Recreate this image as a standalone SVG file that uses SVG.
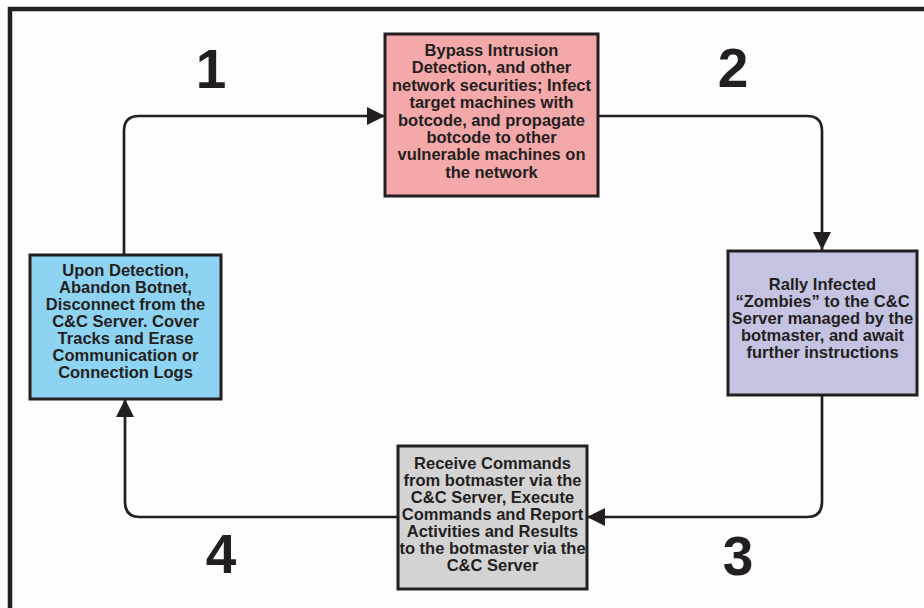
<svg xmlns="http://www.w3.org/2000/svg" width="924" height="608" viewBox="0 0 924 608">
  <style>
    .box { stroke: #231f20; stroke-width: 3; }
    .t { font-family: "Liberation Sans", Arial, sans-serif; font-weight: bold; font-size: 16.5px; fill: #231f20; text-anchor: middle; }
    .num { font-family: "Liberation Sans", Arial, sans-serif; font-weight: bold; font-size: 55px; fill: #231f20; text-anchor: middle; }
    .conn { fill: none; stroke: #231f20; stroke-width: 2.7; }
  </style>
  <defs>
    <marker id="arr" markerUnits="userSpaceOnUse" markerWidth="19" markerHeight="19" refX="18" refY="9" orient="auto">
      <path d="M0,0 L18,9 L0,18 z" fill="#231f20"/>
    </marker>
  </defs>
  <rect x="0" y="0" width="924" height="608" fill="#fdfdfd"/>
  <rect x="10" y="9" width="930" height="620" fill="none" stroke="#231f20" stroke-width="4.5"/>

  <g id="connectors">
    <path class="conn" d="M124,254 V131 Q124,116 139,116 H385" marker-end="url(#arr)"/>
    <path class="conn" d="M598,116 H807 Q822,116 822,131 V250" marker-end="url(#arr)"/>
    <path class="conn" d="M822,395 V502 Q822,517 807,517 H587" marker-end="url(#arr)"/>
    <path class="conn" d="M398,517 H140 Q125,517 125,502 V399" marker-end="url(#arr)"/>
  </g>

  <g id="labels">
    <text class="num" x="211" y="88">1</text>
    <text class="num" x="733" y="87">2</text>
    <text class="num" x="738" y="575">3</text>
    <text class="num" x="221" y="573">4</text>
  </g>

  <g id="node-infect">
    <rect class="box" x="385" y="34" width="213" height="162" fill="#f4a8a9"/>
    <text class="t" x="491.5" y="56">Bypass Intrusion</text>
    <text class="t" x="491.5" y="73.4">Detection, and other</text>
    <text class="t" x="491.5" y="90.8">network securities; Infect</text>
    <text class="t" x="491.5" y="108.2">target machines with</text>
    <text class="t" x="491.5" y="125.6">botcode, and propagate</text>
    <text class="t" x="491.5" y="143">botcode to other</text>
    <text class="t" x="491.5" y="160.4">vulnerable machines on</text>
    <text class="t" x="491.5" y="177.8">the network</text>
  </g>

  <g id="node-rally">
    <rect class="box" x="728" y="251" width="189" height="144" fill="#c5c3e2"/>
    <text class="t" x="822.5" y="290">Rally Infected</text>
    <text class="t" x="822.5" y="307">“Zombies” to the C&amp;C</text>
    <text class="t" x="822.5" y="324">Server managed by the</text>
    <text class="t" x="822.5" y="341">botmaster, and await</text>
    <text class="t" x="822.5" y="358">further instructions</text>
  </g>

  <g id="node-commands">
    <rect class="box" x="398" y="446" width="189" height="143" fill="#d3d3d4"/>
    <text class="t" x="492.5" y="469">Receive Commands</text>
    <text class="t" x="492.5" y="486">from botmaster via the</text>
    <text class="t" x="492.5" y="503">C&amp;C Server, Execute</text>
    <text class="t" x="492.5" y="520">Commands and Report</text>
    <text class="t" x="492.5" y="537">Activities and Results</text>
    <text class="t" x="492.5" y="554">to the botmaster via the</text>
    <text class="t" x="492.5" y="571">C&amp;C Server</text>
  </g>

  <g id="node-abandon">
    <rect class="box" x="30" y="255" width="191" height="144" fill="#8fd3f2"/>
    <text class="t" x="125.5" y="276">Upon Detection,</text>
    <text class="t" x="125.5" y="293">Abandon Botnet,</text>
    <text class="t" x="125.5" y="310">Disconnect from the</text>
    <text class="t" x="125.5" y="327">C&amp;C Server. Cover</text>
    <text class="t" x="125.5" y="344">Tracks and Erase</text>
    <text class="t" x="125.5" y="361">Communication or</text>
    <text class="t" x="125.5" y="378">Connection Logs</text>
  </g>
</svg>
